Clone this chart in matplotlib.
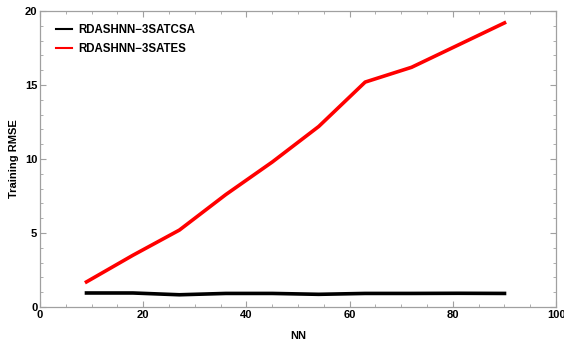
import matplotlib
matplotlib.use("Agg")
import matplotlib.pyplot as plt
from matplotlib.ticker import MultipleLocator

plt.rcParams["font.family"] = ["Liberation Sans", "DejaVu Sans"]

nn = [9, 18, 27, 36, 45, 54, 63, 72, 81, 90]
rmse_tcsa = [0.95, 0.95, 0.83, 0.92, 0.92, 0.86, 0.92, 0.92, 0.93, 0.92]
rmse_tes = [1.7, 3.5, 5.2, 7.6, 9.8, 12.2, 15.2, 16.2, 17.7, 19.2]
labels = ["RDASHNN\u22123SATCSA", "RDASHNN\u22123SATES"]

fig = plt.figure(figsize=(5.64, 3.45), dpi=100)
ax = fig.add_axes([0.071, 0.11, 0.915, 0.858])

ax.plot(nn, rmse_tcsa, color="black", lw=2.6, label=labels[0])
ax.plot(nn, rmse_tes, color="#ff0000", lw=2.6, label=labels[1])

ax.set_xlim(0, 100)
ax.set_ylim(0, 20)
ax.xaxis.set_major_locator(MultipleLocator(20))
ax.xaxis.set_minor_locator(MultipleLocator(5))
ax.yaxis.set_major_locator(MultipleLocator(5))
ax.yaxis.set_minor_locator(MultipleLocator(1))

for s in ax.spines.values():
    s.set_color("#a0a0a0")
    s.set_linewidth(0.9)
ax.tick_params(which="both", direction="in", top=True, right=True,
               color="#a0a0a0", labelsize=8, pad=2)
ax.tick_params(which="major", length=4, width=0.8)
ax.tick_params(which="minor", length=2.5, width=0.6)
for t in ax.get_xticklabels() + ax.get_yticklabels():
    t.set_fontweight("bold")

ax.set_xlabel("NN", fontsize=8, fontweight="bold", labelpad=8)
ax.set_ylabel("Training RMSE", fontsize=8, fontweight="bold", labelpad=4)

leg = ax.legend(loc="upper left", frameon=False, fontsize=8.3, handlelength=1.4,
                handletextpad=0.6, bbox_to_anchor=(0.01, 0.99), labelspacing=0.6)
for t in leg.get_texts():
    t.set_fontweight("bold")
for h in leg.get_lines():
    h.set_linewidth(1.5)

fig.savefig("out.png", dpi=100)
